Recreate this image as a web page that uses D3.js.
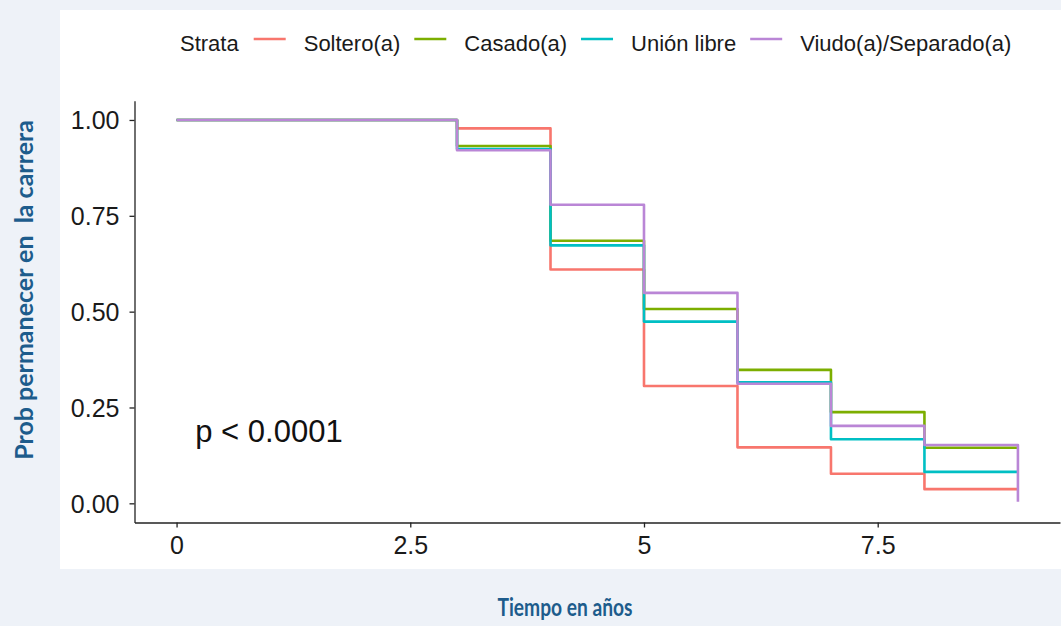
<!DOCTYPE html>
<html>
<head>
<meta charset="utf-8">
<script src="https://cdn.jsdelivr.net/npm/d3@7"></script>
<style>
  html, body { margin: 0; padding: 0; background: #eef2f8; }
  svg { display: block; }
</style>
</head>
<body>
<svg id="chart" width="1061" height="626"></svg>
<script>
// ---- data ----
const times = [0, 3, 4, 5, 6, 7, 8, 9];
const strata = ["Soltero(a)", "Casado(a)", "Unión libre", "Viudo(a)/Separado(a)"];
const soltero = [1, 0.978, 0.610, 0.306, 0.146, 0.077, 0.037, 0.037];
const casado  = [1, 0.932, 0.685, 0.507, 0.348, 0.238, 0.145, 0.145];
const union   = [1, 0.924, 0.673, 0.474, 0.316, 0.167, 0.082, 0.082];
const viudo   = [1, 0.921, 0.779, 0.549, 0.312, 0.202, 0.152, 0.004];
const seriesValues = [soltero, casado, union, viudo];
const colors = ["#F8766D", "#7CAE00", "#00BFC4", "#BA86D6"];
const xTicks = [0, 2.5, 5, 7.5];
const xTickLabels = ["0", "2.5", "5", "7.5"];
const yTicks = [0, 0.25, 0.5, 0.75, 1];
const yTickLabels = ["0.00", "0.25", "0.50", "0.75", "1.00"];
const pText = "p < 0.0001";
const xTitle = "Tiempo en años";
const yTitle = "Prob permanecer en  la carrera";
const legendTitle = "Strata";

// ---- layout ----
const svg = d3.select("#chart");
const FONT = "Arial, 'Liberation Sans', sans-serif";
const TITLE_FONT = "Lato, 'Open Sans', sans-serif";
const TITLE_COLOR = "#1d5c8c";

svg.append("rect").attr("x", 60).attr("y", 10).attr("width", 1001).attr("height", 559).attr("fill", "#ffffff");

const x = d3.scaleLinear().domain([-0.45, 9.45]).range([134.5, 1060]);
const y = d3.scaleLinear().domain([-0.05, 1.05]).range([522.5, 100.8]);

// axes
const xAxis = d3.axisBottom(x).tickValues(xTicks).tickFormat((d, i) => xTickLabels[i]).tickSize(5).tickSizeOuter(0).tickPadding(9);
const yAxis = d3.axisLeft(y).tickValues(yTicks).tickFormat((d, i) => yTickLabels[i]).tickSize(5).tickSizeOuter(0).tickPadding(10);

const gx = svg.append("g").attr("transform", `translate(0,${y(-0.05)})`).call(xAxis);
const gy = svg.append("g").attr("transform", `translate(${x(-0.45)},0)`).call(yAxis);
[gx, gy].forEach(g => {
  g.attr("font-family", FONT).attr("font-size", 25);
  g.select(".domain").attr("stroke", "#222").attr("stroke-width", 1.3);
  g.selectAll(".tick line").attr("stroke", "#222").attr("stroke-width", 1.3);
  g.selectAll(".tick text").attr("fill", "#1a1a1a").style("font-family", FONT).style("font-size", "25px");
});
gy.selectAll(".tick text").attr("dy", "0.36em");

// curves
const line = d3.line()
  .x((d, i) => x(times[i]))
  .y(d => y(d))
  .curve(d3.curveStepAfter);

svg.append("g").selectAll("path")
  .data(seriesValues)
  .join("path")
  .attr("d", d => line(d))
  .attr("fill", "none")
  .attr("stroke", (d, i) => colors[i])
  .attr("stroke-width", 2.6)
  .attr("stroke-linejoin", "round");

// p-value
svg.append("text").attr("x", x(0.2)).attr("y", 442)
  .style("font-family", FONT).style("font-size", "31px").attr("fill", "#111")
  .text(pText);

// legend
const lg = svg.append("g").style("font-family", FONT).style("font-size", "22px").attr("fill", "#1a1a1a");
let lx = 180;
const ly = 51;
const t0 = lg.append("text").attr("x", lx).attr("y", ly).text(legendTitle);
lx += t0.node().getComputedTextLength() + 15;
strata.forEach((s, i) => {
  lg.append("line").attr("x1", lx).attr("x2", lx + 32).attr("y1", 39).attr("y2", 39)
    .attr("stroke", colors[i]).attr("stroke-width", 2.6);
  lx += 32 + 18;
  const t = lg.append("text").attr("x", lx).attr("y", ly).text(s);
  lx += t.node().getComputedTextLength() + 14;
});

// axis titles
svg.append("text").attr("transform", "translate(565,616) scale(0.8,1)").attr("text-anchor", "middle")
  .style("font-family", TITLE_FONT).attr("font-weight", "bold").style("font-size", "24px")
  .attr("fill", TITLE_COLOR).text(xTitle);
svg.append("text").attr("transform", "translate(33,290) rotate(-90)").attr("text-anchor", "middle")
  .style("font-family", TITLE_FONT).attr("font-weight", "bold").style("font-size", "25px")
  .attr("fill", TITLE_COLOR).style("white-space", "pre").text(yTitle);
</script>
</body>
</html>
